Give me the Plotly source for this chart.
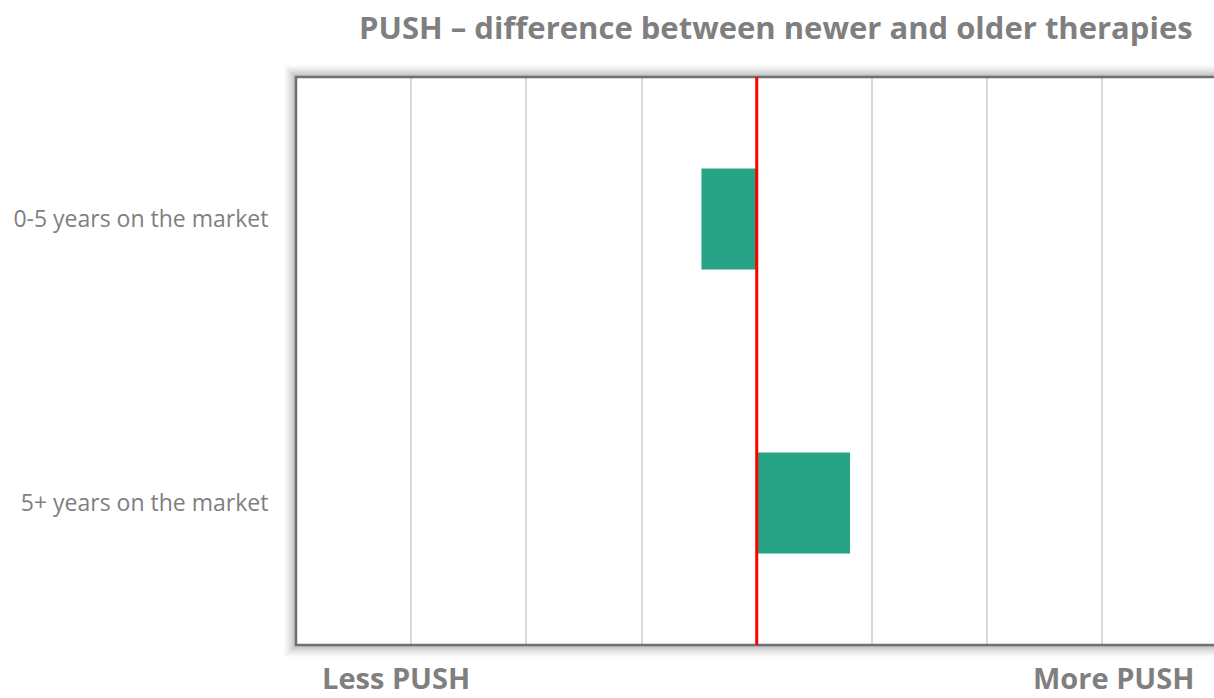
import plotly.graph_objects as go

# Data
categories = ["0-5 years on the market", "5+ years on the market"]
push_diff = [-0.48, 0.81]
x_min, x_max = -4, 3.97

title_text = "PUSH \u2013 difference between newer and older therapies"
left_label = "Less PUSH"
right_label = "More PUSH"

W, H = 1214, 698
ML, MR, MT, MB = 296, 0, 77, 53
PW, PH = W - ML - MR, H - MT - MB

GRAY = "#7f7f7f"
TEAL = "#27a386"


def px_x(px):
    return (px - ML) / PW


def px_y(py):
    return 1 - (py - MT) / PH


fig = go.Figure()
fig.add_trace(go.Bar(
    y=categories,
    x=push_diff,
    orientation="h",
    marker=dict(color=TEAL, line=dict(width=0)),
    hoverinfo="x+y",
))

shapes = []
# soft outer shadow around the plot frame
N = 13
for k in range(1, N + 1):
    a = 0.30 * (1 - k / (N + 1)) ** 1.6
    shapes.append(dict(
        type="rect", xref="paper", yref="paper", layer="below",
        x0=px_x(ML - k), x1=px_x(W + 40),
        y0=px_y(MT + PH + k), y1=px_y(MT - k),
        line=dict(color=f"rgba(0,0,0,{a:.3f})", width=1),
        fillcolor="rgba(0,0,0,0)",
    ))
# frame (left, top, bottom)
shapes.append(dict(
    type="rect", xref="paper", yref="paper", layer="above",
    x0=0, x1=px_x(W + 40), y0=0, y1=1,
    line=dict(color="#707070", width=2.5),
    fillcolor="rgba(0,0,0,0)",
))
# red reference line at zero
shapes.append(dict(
    type="line", xref="x", yref="paper", layer="above",
    x0=0, x1=0, y0=0, y1=1,
    line=dict(color="#ff0000", width=3),
))

annotations = [
    dict(text=f"<b>{title_text}</b>", xref="paper", yref="paper",
         x=px_x(776), y=px_y(27), xanchor="center", yanchor="middle",
         showarrow=False, font=dict(family="Open Sans", size=31, color=GRAY)),
    dict(text=f"<b>{left_label}</b>", xref="paper", yref="paper",
         x=px_x(396), y=px_y(677), xanchor="center", yanchor="middle",
         showarrow=False, font=dict(family="Open Sans", size=29, color=GRAY)),
    dict(text=f"<b>{right_label}</b>", xref="paper", yref="paper",
         x=px_x(1113), y=px_y(677), xanchor="center", yanchor="middle",
         showarrow=False, font=dict(family="Open Sans", size=29, color=GRAY)),
]

fig.update_layout(
    width=W, height=H,
    margin=dict(l=ML, r=MR, t=MT, b=MB, pad=0),
    paper_bgcolor="white", plot_bgcolor="white",
    showlegend=False,
    bargap=0.645,
    shapes=shapes,
    annotations=annotations,
    font=dict(family="Open Sans", color=GRAY),
    xaxis=dict(
        range=[x_min, x_max], dtick=1, tick0=0,
        showgrid=True, gridcolor="#d9d9d9", gridwidth=2,
        zeroline=False, showticklabels=False, ticks="",
        showline=False, fixedrange=True,
    ),
    yaxis=dict(
        autorange="reversed", showgrid=False, zeroline=False,
        ticks="outside", ticklen=22, tickcolor="rgba(0,0,0,0)",
        tickfont=dict(family="Open Sans", size=23, color=GRAY),
        showline=False, fixedrange=True,
    ),
)

fig.write_html("out.html")
